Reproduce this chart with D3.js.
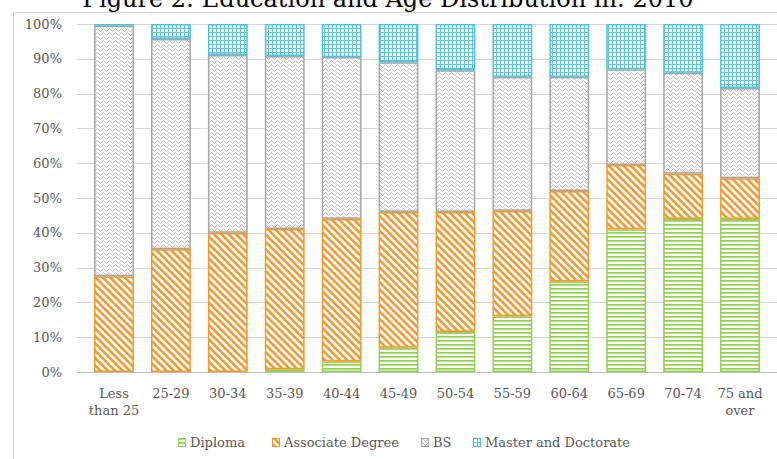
<!DOCTYPE html>
<html>
<head>
<meta charset="utf-8">
<script src="https://cdn.jsdelivr.net/npm/d3@7"></script>
<style>
  html, body { margin: 0; padding: 0; background: #fff; }
  svg { display: block; font-family: 'DejaVu Serif', serif; }
</style>
</head>
<body>
<div id="root"></div>
<script>
const width = 777;
const height = 459;

// age groups along the x axis
const ageGroups = ['Less\nthan 25', '25-29', '30-34', '35-39', '40-44', '45-49',
    '50-54', '55-59', '60-64', '65-69', '70-74', '75 and\nover'];

// share of each education level, in percent
const diploma   = [0, 0, 0, 0.8, 3, 7, 11.5, 16, 26, 41, 44, 44];
const associate = [27.5, 35.3, 40, 40.3, 41, 39, 34.5, 30.3, 26, 18.5, 13, 11.7];
const bs        = [72, 60.4, 51.1, 49.7, 46.5, 43, 40.7, 38.5, 32.8, 27.5, 29, 25.9];
const master    = [0.5, 4.3, 8.9, 9.2, 9.5, 11, 13.3, 15.2, 15.2, 13, 14, 18.4];

const seriesNames = ['Diploma', 'Associate Degree', 'BS', 'Master and Doctorate'];
const yTicks = [0, 10, 20, 30, 40, 50, 60, 70, 80, 90, 100];

const STYLE = {
    'Diploma': {stroke: '#92d050', pat: 'pat-dip'},
    'Associate Degree': {stroke: '#f7962a', pat: 'pat-ass'},
    'BS': {stroke: '#a6a6a6', pat: 'pat-bs'},
    'Master and Doctorate': {stroke: '#4bc3dc', pat: 'pat-ms'}
};

const margin = {top: 24, right: 0, bottom: 87, left: 77};

const svg = d3.select('#root')
    .append('svg')
    .attr('width', width)
    .attr('height', height);

// fill patterns
const defs = svg.append('defs');

const pDip = defs.append('pattern').attr('id', 'pat-dip')
    .attr('patternUnits', 'userSpaceOnUse').attr('width', 4).attr('height', 4);
pDip.append('rect').attr('width', 4).attr('height', 4).attr('fill', '#fff');
pDip.append('rect').attr('y', 0).attr('width', 4).attr('height', 1.7).attr('fill', '#92d050');

const pAss = defs.append('pattern').attr('id', 'pat-ass')
    .attr('patternUnits', 'userSpaceOnUse').attr('width', 5.2).attr('height', 5.2)
    .attr('patternTransform', 'rotate(-45)');
pAss.append('rect').attr('width', 5.2).attr('height', 5.2).attr('fill', '#fff');
pAss.append('rect').attr('x', 0).attr('width', 2.5).attr('height', 5.2).attr('fill', '#f7962a');

const pBs = defs.append('pattern').attr('id', 'pat-bs')
    .attr('patternUnits', 'userSpaceOnUse').attr('width', 6).attr('height', 4);
pBs.append('rect').attr('width', 6).attr('height', 4).attr('fill', '#fbfbfb');
pBs.append('path').attr('d', 'M0,2 C1,0.2 2,0.2 3,2 S5,3.8 6,2')
    .attr('fill', 'none').attr('stroke', '#b3b3b3').attr('stroke-width', 0.9);

const pMs = defs.append('pattern').attr('id', 'pat-ms')
    .attr('patternUnits', 'userSpaceOnUse').attr('width', 4).attr('height', 4);
pMs.append('rect').attr('width', 4).attr('height', 4).attr('fill', '#fff');
pMs.append('path').attr('d', 'M0,0.5 H4 M0.5,0 V4')
    .attr('stroke', '#5cc8de').attr('stroke-width', 1);

// chart frame and title (title sits partly above the picture, as in the source)
svg.append('line').attr('x1', 13.5).attr('x2', 13.5).attr('y1', 12).attr('y2', height)
    .attr('stroke', '#d9d9d9');
svg.append('line').attr('x1', 13).attr('x2', width).attr('y1', 12.5).attr('y2', 12.5)
    .attr('stroke', '#d9d9d9');
svg.append('text')
    .attr('x', 388).attr('y', 7)
    .attr('text-anchor', 'middle')
    .attr('font-size', 24)
    .attr('fill', '#000')
    .text('Figure 2: Education and Age Distribution in: 2010');

const x = d3.scaleBand()
    .domain(ageGroups)
    .range([margin.left, width - margin.right])
    .padding(0.3);

const y = d3.scaleLinear()
    .domain([0, 100])
    .range([height - margin.bottom, margin.top]);

// grid lines
svg.append('g')
    .selectAll('line')
    .data(yTicks.slice(1))
    .join('line')
    .attr('x1', margin.left).attr('x2', width - margin.right)
    .attr('y1', d => Math.round(y(d)) + 0.5).attr('y2', d => Math.round(y(d)) + 0.5)
    .attr('stroke', '#d9d9d9');

// y axis labels
const yAxis = svg.append('g')
    .attr('transform', `translate(${margin.left},0)`)
    .call(d3.axisLeft(y).tickValues(yTicks).tickFormat(d => d + '%').tickSize(0).tickPadding(15));
yAxis.select('.domain').remove();
yAxis.selectAll('text')
    .attr('font-family', 'DejaVu Serif')
    .attr('font-size', 13)
    .attr('fill', '#595959');

// stacked bars
const table = ageGroups.map((g, i) => ({
    group: g,
    'Diploma': diploma[i],
    'Associate Degree': associate[i],
    'BS': bs[i],
    'Master and Doctorate': master[i]
}));
const stacked = d3.stack().keys(seriesNames)(table);

svg.append('g')
    .selectAll('g')
    .data(stacked)
    .join('g')
    .attr('fill', d => `url(#${STYLE[d.key].pat})`)
    .attr('stroke', d => STYLE[d.key].stroke)
    .attr('stroke-width', 1.5)
    .selectAll('rect')
    .data(d => d.filter(s => s[1] - s[0] > 0))
    .join('rect')
    .attr('x', d => x(d.data.group) + 0.75)
    .attr('width', x.bandwidth() - 1.5)
    .attr('y', d => y(d[1]) + 0.75)
    .attr('height', d => Math.max(0, y(d[0]) - y(d[1]) - 1.5));

// x axis
const xAxis = svg.append('g')
    .attr('transform', `translate(0,${height - margin.bottom})`)
    .call(d3.axisBottom(x).tickSize(0).tickFormat(''));
xAxis.select('.domain')
    .attr('stroke', '#bfbfbf')
    .attr('d', `M${margin.left},0.5H${width}`);

svg.append('g')
    .selectAll('text')
    .data(ageGroups)
    .join('text')
    .attr('x', d => x(d) + x.bandwidth() / 2)
    .attr('y', height - margin.bottom + 26)
    .attr('text-anchor', 'middle')
    .attr('font-size', 13)
    .attr('fill', '#595959')
    .selectAll('tspan')
    .data(d => d.split('\n'))
    .join('tspan')
    .attr('x', function () { return d3.select(this.parentNode).attr('x'); })
    .attr('dy', (d, i) => i === 0 ? 0 : '1.3em')
    .text(d => d);

// legend
const legendX = [178, 272, 421, 473];
const legend = svg.append('g')
    .selectAll('g')
    .data(seriesNames)
    .join('g')
    .attr('transform', (d, i) => `translate(${legendX[i]},${438})`);
legend.append('rect')
    .attr('x', 0.5).attr('y', 0.5)
    .attr('width', 7).attr('height', 8)
    .attr('fill', d => `url(#${STYLE[d].pat})`)
    .attr('stroke', d => STYLE[d].stroke)
    .attr('stroke-width', 1.2);
legend.append('text')
    .attr('x', 12).attr('y', 9)
    .attr('font-size', 13)
    .attr('fill', '#595959')
    .text(d => d);
</script>
</body>
</html>
